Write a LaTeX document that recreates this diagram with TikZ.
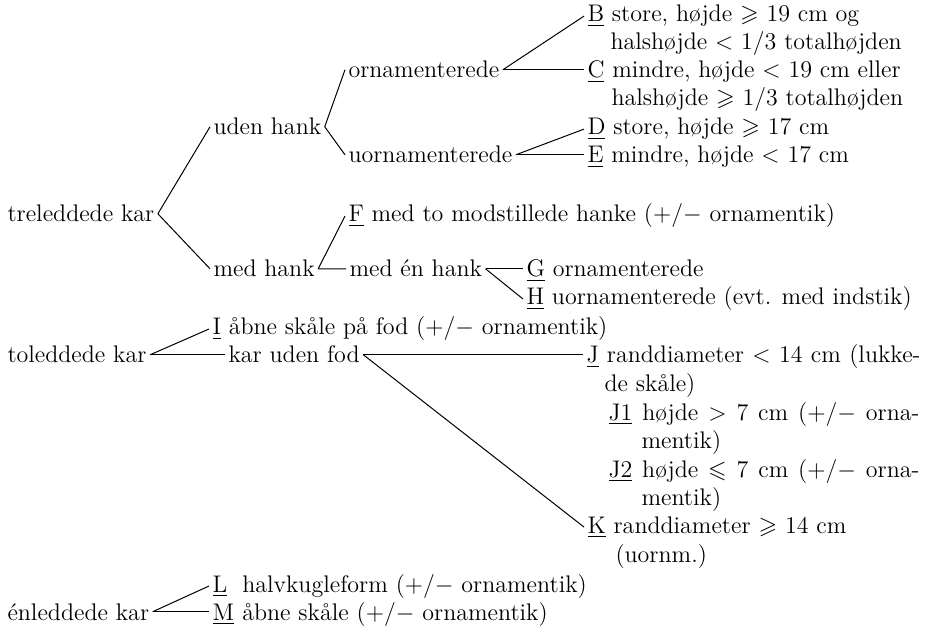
\documentclass[tikz,border=0pt]{standalone}
\usepackage{amsmath,amssymb}
\usepackage{fontspec}
\usepackage{tikz}
\newcommand{\typ}[1]{\underline{#1}}
\newcommand{\plusorn}{(+/$-$ ornamentik)}

\begin{document}
\begin{tikzpicture}[x=0.5pt, y=-0.5pt, line width=0.5pt,
    every node/.style={font=\fontsize{12}{14}\selectfont, inner sep=1.5pt},
    txt/.style={anchor=base west}]
  \useasboundingbox (0,0) rectangle (936,630);
  % treleddede kar
  \node[txt] (tre) at (4,222) {treleddede kar};
  \node[txt] (uden) at (210,135) {uden hank};
  \node[txt] (medh) at (210,277) {med hank};
  \node[txt] (orn) at (345,78) {ornamenterede};
  \node[txt] (uorn) at (345,163) {uornamenterede};
  \node[txt] (B) at (584,22) {\typ{B} store, højde $\geqslant$ 19 cm og};
  \node[txt] (Bx) at (607,50) {halshøjde $<$ 1/3 totalhøjden};
  \node[txt] (C) at (584,78) {\typ{C} mindre, højde $<$ 19 cm eller};
  \node[txt] (Cx) at (608,106) {halshøjde $\geqslant$ 1/3 totalhøjden};
  \node[txt] (D) at (584,135) {\typ{D} store, højde $\geqslant$ 17 cm};
  \node[txt] (E) at (584,163) {\typ{E} mindre, højde $<$ 17 cm};
  \node[txt] (F) at (345,222) {\typ{F} med to modstillede hanke \plusorn};
  \node[txt] (een) at (346,277) {med én hank};
  \node[txt] (G) at (523,277) {\typ{G} ornamenterede};
  \node[txt] (H) at (523,305) {\typ{H} uornamenterede (evt. med indstik)};
  \draw (tre.east) -- (uden.west);
  \draw (tre.east) -- (medh.west);
  \draw (uden.east) -- (orn.west);
  \draw (uden.east) -- (uorn.west);
  \draw (orn.east) -- (B.west);
  \draw (orn.east) -- (orn.east -| C.west);
  \draw (uorn.east) -- (D.west);
  \draw (uorn.east) -- (uorn.east -| E.west);
  \draw (medh.east) -- (F.west);
  \draw (medh.east) -- (een.west);
  \draw (een.east) -- (een.east -| G.west);
  \draw (een.east) -- (H.west);
  % toleddede kar
  \node[txt] (tol) at (4,363) {toleddede kar};
  \node[txt] (I) at (209,335) {\typ{I} åbne skåle på fod \plusorn};
  \node[txt] (kuf) at (225,363) {kar uden fod};
  \node[txt] (J) at (583,363) {\makebox[167pt][s]{\typ{J} randdiameter $<$ 14 cm (lukke-}};
  \node[txt] (Jx) at (601,392) {de skåle)};
  \node[txt] (J1) at (605,420) {\makebox[155.5pt][s]{\typ{J1} højde $>$ 7 cm (+/$-$ orna-}};
  \node[txt] (J1x) at (638,448) {mentik)};
  \node[txt] (J2) at (605,477) {\makebox[155.5pt][s]{\typ{J2} højde $\leqslant$ 7 cm (+/$-$ orna-}};
  \node[txt] (J2x) at (638,505) {mentik)};
  \node[txt] (K) at (584,533) {\typ{K} randdiameter $\geqslant$ 14 cm};
  \node[txt] (Kx) at (612,562) {(uornm.)};
  \draw (tol.east) -- (I.west);
  \draw (tol.east) -- (tol.east -| kuf.west);
  \draw (kuf.east) -- (kuf.east -| J.west);
  \draw (kuf.east) -- (K.west);
  % enleddede kar
  \node[txt] (en) at (4,620) {énleddede kar};
  \node[txt] (L) at (209,592) {\makebox[11pt][l]{\typ{L}} halvkugleform \plusorn};
  \node[txt] (M) at (209,620) {\makebox[11pt][l]{\typ{M}} åbne skåle \plusorn};
  \draw (en.east) -- (L.west);
  \draw (en.east) -- (en.east -| M.west);
\end{tikzpicture}
\end{document}
